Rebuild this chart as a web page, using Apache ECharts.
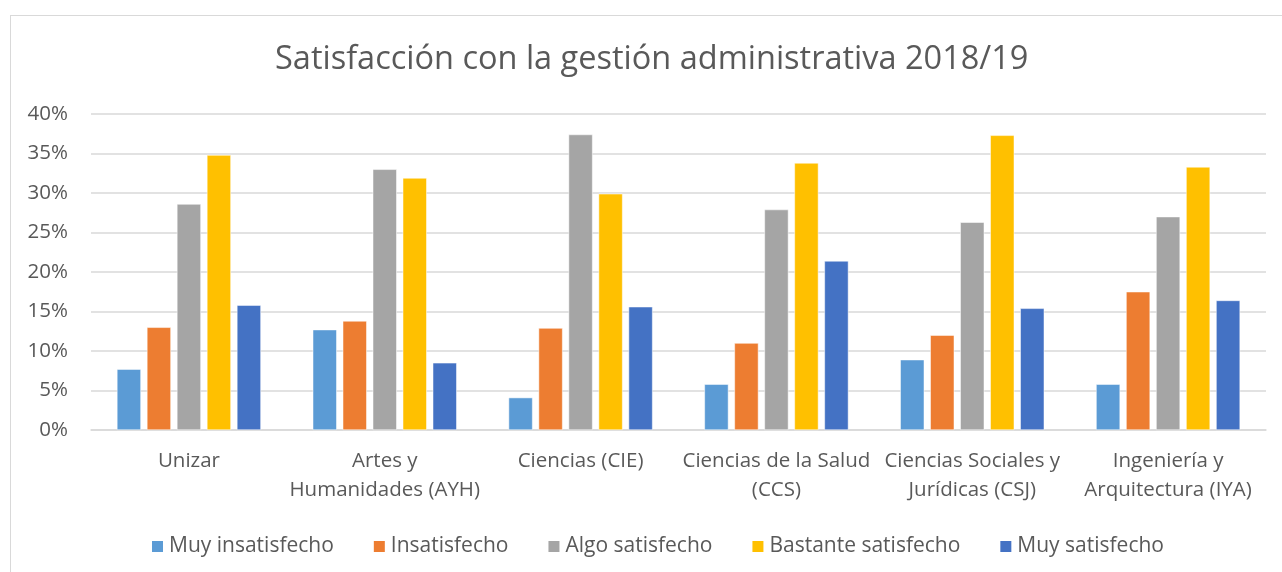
<html>
<head>
<meta charset="utf-8"/>
<title>Satisfacción</title>
<script src="https://cdn.jsdelivr.net/npm/echarts@6/dist/echarts.min.js"></script>
<style>
  body { margin: 0; padding: 0; background: #ffffff; }
  #frame {
    position: absolute; left: 10px; top: 15px; width: 1280px; height: 570px;
    border-left: 1px solid #d9d9d9; border-top: 1px solid #d9d9d9;
  }
  #chart { position: absolute; left: 0; top: 0; width: 1282px; height: 572px; }
</style>
</head>
<body>
<div id="frame"></div>
<div id="chart"></div>
<script type="text/javascript">
const categories = ['Unizar', 'Artes y\nHumanidades (AYH)', 'Ciencias (CIE)',
  'Ciencias de la Salud\n(CCS)', 'Ciencias Sociales y\nJurídicas (CSJ)', 'Ingeniería y\nArquitectura (IYA)'];
const muyInsatisfecho = [7.7, 12.7, 4.1, 5.8, 8.9, 5.8];
const insatisfecho = [13.0, 13.8, 12.9, 11.0, 12.0, 17.5];
const algoSatisfecho = [28.6, 33.0, 37.4, 27.9, 26.3, 27.0];
const bastanteSatisfecho = [34.8, 31.9, 29.9, 33.8, 37.3, 33.3];
const muySatisfecho = [15.8, 8.5, 15.6, 21.4, 15.4, 16.4];

let chart = echarts.init(document.getElementById('chart'));
const font = 'Open Sans';
const textColor = '#595959';

function barSeries(name, data, color) {
  return {
    name: name,
    type: 'bar',
    data: data,
    barWidth: 24,
    barGap: '25%',
    itemStyle: { color: color, borderColor: '#ffffff', borderWidth: 0.5 }
  };
}

chart.setOption({
  animation: false,
  textStyle: { fontFamily: font },
  title: {
    text: 'Satisfacción con la gestión administrativa 2018/19',
    left: 270,
    top: 38,
    textStyle: { fontFamily: font, fontSize: 32.5, fontWeight: 'normal', color: textColor }
  },
  legend: {
    bottom: 10,
    left: 145,
    icon: 'rect',
    itemWidth: 13,
    itemHeight: 13,
    itemGap: 38,
    textStyle: { fontFamily: font, fontSize: 21, color: textColor }
  },
  grid: { left: 91, right: 16, top: 114, bottom: 142 },
  xAxis: {
    type: 'category',
    data: categories,
    axisLine: { lineStyle: { color: '#d9d9d9', width: 1.5 } },
    axisTick: { show: false },
    axisLabel: { fontFamily: font, fontSize: 20.5, color: textColor, lineHeight: 29, margin: 17, interval: 0 }
  },
  yAxis: {
    type: 'value',
    min: 0,
    max: 40,
    interval: 5,
    axisLine: { show: false },
    axisTick: { show: false },
    splitLine: { lineStyle: { color: '#d9d9d9', width: 1.5 } },
    axisLabel: { fontFamily: font, fontSize: 20.5, color: textColor, margin: 23, formatter: '{value}%' }
  },
  series: [
    barSeries('Muy insatisfecho', muyInsatisfecho, '#5b9bd5'),
    barSeries('Insatisfecho', insatisfecho, '#ed7d31'),
    barSeries('Algo satisfecho', algoSatisfecho, '#a5a5a5'),
    barSeries('Bastante satisfecho', bastanteSatisfecho, '#ffc000'),
    barSeries('Muy satisfecho', muySatisfecho, '#4472c4')
  ]
});
</script>
</body>
</html>
